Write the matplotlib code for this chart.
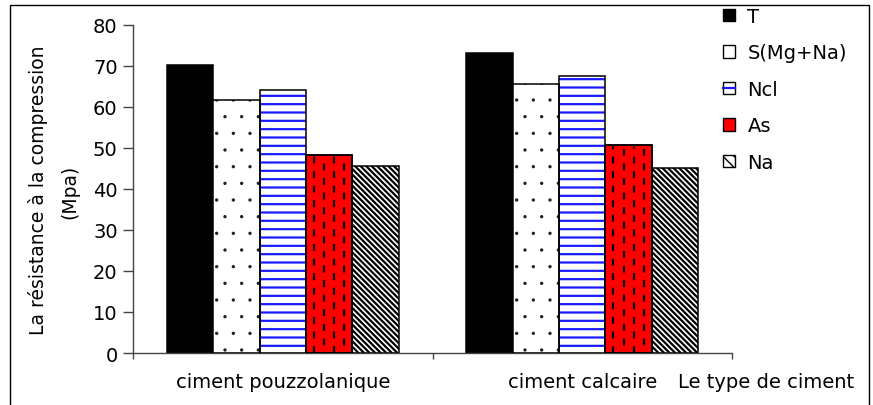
import matplotlib
matplotlib.use("Agg")
import matplotlib.pyplot as plt
import numpy as np
from matplotlib.patches import Patch, Rectangle
from matplotlib.lines import Line2D
from matplotlib.legend_handler import HandlerTuple

plt.rcParams['font.family'] = ['DejaVu Sans']
plt.rcParams['font.size'] = 14
plt.rcParams['lines.scale_dashes'] = False

categories = ["ciment pouzzolanique", "ciment calcaire"]
series = ["T", "S(Mg+Na)", "Ncl", "As", "Na"]
T = [70.3, 73.2]
S_MgNa = [61.8, 65.6]
Ncl = [64.1, 67.5]
As = [48.2, 50.7]
Na = [45.5, 45.1]
yticks = [0, 10, 20, 30, 40, 50, 60, 70, 80]

fig = plt.figure(figsize=(8.73, 4.06), dpi=100)
ax = fig.add_axes([133/873, 1 - 354/406, (732 - 133)/873, (354 - 26)/406])

x = np.arange(len(categories))
w = 0.155
offs = (np.arange(5) - 2) * w
edge_lw = 1.1

# T: solid black
ax.bar(x + offs[0], T, w, color='black', edgecolor='black', linewidth=edge_lw, zorder=2)

# S(Mg+Na): sparse dots on white
with plt.rc_context({'hatch.linewidth': 0.0}):
    ax.bar(x + offs[1], S_MgNa, w, color='white', edgecolor='#222222',
           linewidth=0, hatch='.', zorder=2)
ax.bar(x + offs[1], S_MgNa, w, fill=False, edgecolor='black', linewidth=edge_lw, zorder=3)

# Ncl: blue horizontal stripes, black outline
with plt.rc_context({'hatch.linewidth': 1.6}):
    ax.bar(x + offs[2], Ncl, w, color='white', edgecolor='#1a1aff',
           linewidth=0, hatch='--', zorder=2)
ax.bar(x + offs[2], Ncl, w, fill=False, edgecolor='black', linewidth=edge_lw, zorder=3)

# As: red with short black vertical dashes
as_bars = ax.bar(x + offs[3], As, w, color='#ff0000', edgecolor='black',
                 linewidth=edge_lw, zorder=2)
for rect in as_bars:
    x0 = rect.get_x()
    bw = rect.get_width()
    h = rect.get_height()
    for k, frac in enumerate([0.17, 0.39, 0.61, 0.83]):
        ln, = ax.plot([x0 + frac * bw] * 2, [0, h], color='black', linewidth=1.6,
                      linestyle=(0 if k % 2 == 0 else 5.0, (5.0, 5.5)),
                      solid_capstyle='butt', dash_capstyle='butt', zorder=2.5)
        ln.set_clip_path(rect)
ax.bar(x + offs[3], As, w, fill=False, edgecolor='black', linewidth=edge_lw, zorder=3)

# Na: dense diagonal stripes
with plt.rc_context({'hatch.linewidth': 1.6}):
    ax.bar(x + offs[4], Na, w, color='white', edgecolor='black',
           linewidth=edge_lw, hatch='\\\\\\\\\\\\', zorder=2)

ax.set_xlim(-0.5, 1.5)
ax.set_ylim(0, 80)
ax.set_yticks(yticks)
ax.set_yticklabels([str(v) for v in yticks], fontsize=14)
ax.tick_params(axis='y', direction='out', length=7, width=1, color='#444444', pad=4)

ax.set_xticks(x)
ax.set_xticklabels(categories, fontsize=14)
ax.tick_params(axis='x', which='major', length=0, pad=14)
ax.set_xticks([-0.5, 0.5, 1.5], minor=True)
ax.tick_params(axis='x', which='minor', direction='out', length=4, width=1, color='#444444')

for s in ['top', 'right']:
    ax.spines[s].set_visible(False)
for s in ['left', 'bottom']:
    ax.spines[s].set_color('#444444')
    ax.spines[s].set_linewidth(1)

fig.text(38/873, 1 - 190/406, "La résistance à la compression", rotation=90,
         ha='center', va='center', fontsize=13.5)
fig.text(70/873, 1 - 192/406, "(Mpa)", rotation=90, ha='center', va='center', fontsize=13.5)

fig.text(678/873, 1 - 383/406, "Le type de ciment", ha='left', va='center', fontsize=14)

# legend proxies
h_T = Patch(facecolor='black', edgecolor='black')
h_S = Patch(facecolor='white', edgecolor='black')
h_N1 = Patch(facecolor='white', edgecolor='black')
h_N2 = Line2D([], [], color='#1a1aff', linewidth=1.6)
h_A1 = Patch(facecolor='#ff0000', edgecolor='black')
h_A2 = Line2D([], [], color='black', linewidth=1.6, linestyle=(0, (2.5, 10)))
with plt.rc_context({'hatch.linewidth': 1.2}):
    h_Na = Patch(facecolor='white', edgecolor='black', hatch='\\\\\\')
fig.legend([h_T, h_S, (h_N1, h_N2), h_A1, h_Na], series,
           handler_map={tuple: HandlerTuple(ndivide=1)},
           loc='upper left', bbox_to_anchor=(715/873, 1.0),
           frameon=False, fontsize=14, handlelength=0.62, handleheight=0.62,
           handletextpad=0.65, labelspacing=0.9, borderaxespad=0)

# outer frame
fig.patches.append(Rectangle((10/873, -0.02), (869 - 10)/873, (406 - 6)/406 + 0.02,
                             transform=fig.transFigure, fill=False,
                             edgecolor='black', linewidth=1))

fig.savefig("out.png", dpi=100)
